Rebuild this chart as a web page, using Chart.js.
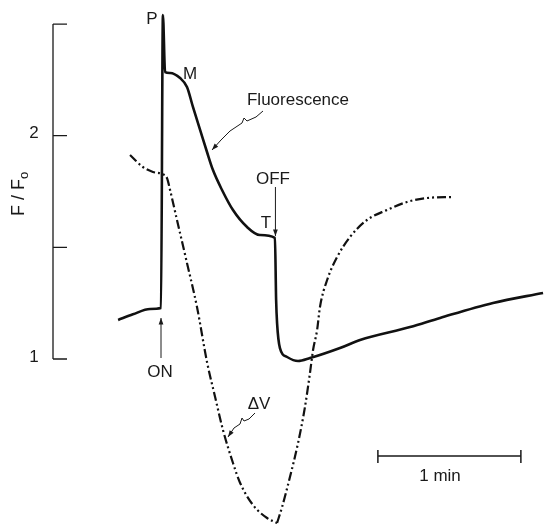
<!DOCTYPE html>
<html>
<head>
<meta charset="utf-8">
<script src="https://cdn.jsdelivr.net/npm/chart.js@4.4.1/dist/chart.umd.min.js"></script>
<style>
  html, body { margin: 0; padding: 0; background: #fff; }
  canvas { display: block; }
</style>
</head>
<body>
<canvas id="chart" width="544" height="524"></canvas>
<script>
// fluorescence: time (s, light ON = 0) and F/Fo
const fTime  = [-18.0, -11.8, -4.6, 0, 0.8, 1.7, 3.8, 8.0, 10.9, 13.4, 16.4, 19.3, 21.8, 25.6, 30.2, 36.1, 41.5, 47.8,
                48.3, 48.7, 49.9, 52.9, 57.5, 62.5, 75.1, 83.5, 104.5, 117.1, 139.3, 160.3];
const fRatio = [1.175, 1.20, 1.224, 1.228, 2.54, 2.285, 2.281, 2.258, 2.218, 2.129, 2.026, 1.927, 1.846, 1.757, 1.667, 1.591, 1.555, 1.542,
                1.264, 1.161, 1.049, 1.009, 0.991, 1.004, 1.049, 1.085, 1.143, 1.184, 1.251, 1.296];

// membrane potential change, relative units (the original has no scale for it)
// falling part, down to the trough
const dvFallTime = [-13.0, -7.6, -3.4, 0.4, 2.5, 3.8, 6.7, 10.9, 15.1, 19.3, 22.7, 26.0, 30.2, 33.2, 38.6, 44.5, 48.7];
const dvFall     = [73.8, 71.4, 70.4, 70.0, 69.2, 66.8, 60.8, 52.2, 43.4, 32.4, 25.4, 18.8, 12.2, 8.2, 3.8, 1.2, 0.2];
// recovery after light OFF
const dvRiseTime = [48.7, 50.8, 54.1, 57.5, 60.4, 62.5, 63.8, 65.5, 66.7, 69.7, 73.9, 79.3, 86.4, 94.8, 103.2, 111.6, 122.5];
const dvRise     = [0.2, 3.4, 9.4, 16.2, 23.4, 30.2, 34.8, 38.8, 43.4, 48.8, 53.4, 57.4, 60.8, 62.8, 64.4, 65.2, 65.4];

const fTicks = [1, 1.5, 2, 2.5];
const fTickLabels = { 1: "1", 2: "2" };
const onTime = 0;
const offTime = 47.8;
const barStart = 91;   // scale bar
const barLength = 60;  // 1 min

const FONT = '"Liberation Sans", Arial, Helvetica, sans-serif';

function arrow(ctx, pts, head) {
  ctx.beginPath();
  ctx.moveTo(pts[0][0], pts[0][1]);
  for (let i = 1; i < pts.length; i++) ctx.lineTo(pts[i][0], pts[i][1]);
  ctx.stroke();
  const [x2, y2] = pts[pts.length - 1];
  const [x1, y1] = pts[pts.length - 2];
  const a = Math.atan2(y2 - y1, x2 - x1);
  ctx.beginPath();
  ctx.moveTo(x2, y2);
  ctx.lineTo(x2 - head * Math.cos(a - 0.35), y2 - head * Math.sin(a - 0.35));
  ctx.lineTo(x2 - head * Math.cos(a + 0.35), y2 - head * Math.sin(a + 0.35));
  ctx.closePath();
  ctx.fill();
}

const decor = {
  id: 'decor',
  afterDraw(chart) {
    const { ctx, scales: { x, y } } = chart;
    ctx.save();
    ctx.strokeStyle = '#1a1a1a';
    ctx.fillStyle = '#1a1a1a';

    // F/Fo axis bracket, ticks point inward
    const ax = 53;
    ctx.lineWidth = 1.3;
    ctx.beginPath();
    ctx.moveTo(ax, y.getPixelForValue(fTicks[0]));
    ctx.lineTo(ax, y.getPixelForValue(fTicks[fTicks.length - 1]));
    fTicks.forEach(v => {
      const py = y.getPixelForValue(v);
      ctx.moveTo(ax, py);
      ctx.lineTo(ax + 14, py);
    });
    ctx.stroke();

    ctx.font = '17px ' + FONT;
    ctx.textAlign = 'center';
    ctx.textBaseline = 'middle';
    Object.keys(fTickLabels).forEach(v => {
      ctx.fillText(fTickLabels[v], 34, y.getPixelForValue(+v) - 2);
    });

    // axis title F/Fo
    ctx.save();
    ctx.translate(19, 196);
    ctx.rotate(-Math.PI / 2);
    ctx.font = '18px ' + FONT;
    ctx.textAlign = 'left';
    ctx.fillText('F / F', -20, 0);
    const w = ctx.measureText('F / F').width;
    ctx.font = '13px ' + FONT;
    ctx.fillText('o', -20 + w, 5);
    ctx.restore();

    // labels
    ctx.font = '17px ' + FONT;
    ctx.fillText('P', 152, 19);
    ctx.fillText('M', 190, 74);
    ctx.fillText('T', 266, 223);
    ctx.fillText('OFF', 273, 179);
    ctx.fillText('ON', 160, 372);
    ctx.fillText('Fluorescence', 298, 100);
    ctx.fillText('\u0394V', 259, 404);
    ctx.fillText('1 min', 440, 476);

    // ON / OFF arrows
    ctx.lineWidth = 1;
    const xOn = x.getPixelForValue(onTime);
    arrow(ctx, [[xOn, 358], [xOn, 318]], 7);
    const xOff = x.getPixelForValue(offTime) + 0.5;
    arrow(ctx, [[xOff, 187], [xOff, 236]], 7);

    // wavy leaders
    arrow(ctx, [[263, 111], [256, 117], [247, 121], [244, 118], [242, 123], [230, 131], [221, 140], [212, 150]], 7);
    arrow(ctx, [[255, 413], [249, 419], [244, 421], [242, 418], [240, 424], [234, 428], [228, 437]], 7);

    // scale bar
    const b0 = x.getPixelForValue(barStart), b1 = x.getPixelForValue(barStart + barLength);
    ctx.lineWidth = 1.5;
    ctx.beginPath();
    ctx.moveTo(b0, 456); ctx.lineTo(b1, 456);
    ctx.moveTo(b0, 450); ctx.lineTo(b0, 463);
    ctx.moveTo(b1, 450); ctx.lineTo(b1, 463);
    ctx.stroke();

    ctx.restore();
  }
};

const dvStyle = {
  borderColor: '#111',
  borderWidth: 2.2,
  borderDash: [9, 3, 2, 3, 2, 3],
  pointRadius: 0,
  cubicInterpolationMode: 'monotone',
  yAxisID: 'yV'
};

new Chart(document.getElementById('chart'), {
  type: 'line',
  data: {
    datasets: [
      {
        label: 'Fluorescence',
        data: fTime.map((t, i) => ({ x: t, y: fRatio[i] })),
        borderColor: '#111',
        borderWidth: 2.6,
        pointRadius: 0,
        cubicInterpolationMode: 'monotone',
        yAxisID: 'y'
      },
      Object.assign({ label: '\u0394V', data: dvFallTime.map((t, i) => ({ x: t, y: dvFall[i] })) }, dvStyle),
      Object.assign({ label: '\u0394V', data: dvRiseTime.map((t, i) => ({ x: t, y: dvRise[i] })) }, dvStyle)
    ]
  },
  options: {
    responsive: false,
    devicePixelRatio: 1,
    animation: false,
    layout: { padding: 0 },
    plugins: { legend: { display: false }, tooltip: { enabled: false } },
    scales: {
      x: { type: 'linear', min: -67.56, max: 160.7, display: false },
      y: { min: 0.2611, max: 2.6077, display: false },
      yV: { min: 0, max: 104.8, display: false }
    }
  },
  plugins: [decor]
});
</script>
</body>
</html>
